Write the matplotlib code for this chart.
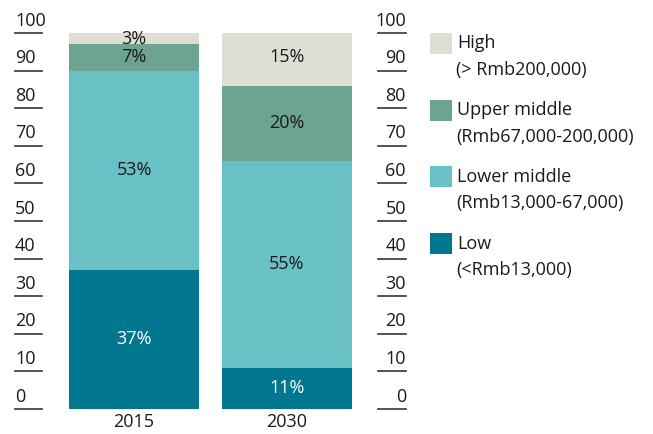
import matplotlib
matplotlib.use("Agg")
import matplotlib.pyplot as plt
from matplotlib.patches import Rectangle
import numpy as np

plt.rcParams['font.family'] = ['Open Sans', 'DejaVu Sans']

# data
years = ['2015', '2030']
groups = ['Low', 'Lower middle', 'Upper middle', 'High']
shares = {
    'Low': [37, 11],
    'Lower middle': [53, 55],
    'Upper middle': [7, 20],
    'High': [3, 15],
}
legend_sub = {
    'High': '(> Rmb200,000)',
    'Upper middle': '(Rmb67,000-200,000)',
    'Lower middle': '(Rmb13,000-67,000)',
    'Low': '(<Rmb13,000)',
}
colors = {
    'Low': '#00778f',
    'Lower middle': '#69c1c6',
    'Upper middle': '#6ca393',
    'High': '#deded3',
}
text_colors = {'Low': 'white', 'Lower middle': '#1a1a1a',
               'Upper middle': '#1a1a1a', 'High': '#1a1a1a'}
yticks = list(range(0, 101, 10))
fs = 13

W, H = 653, 434
fig = plt.figure(figsize=(W / 100, H / 100), dpi=100)
ax = fig.add_axes([15 / W, 1 - 409 / H, (406 - 15) / W, (409 - 33) / H])
ax.set_xlim(-0.778, 1.778)
ax.set_ylim(0, 100)
ax.axis('off')

x = np.arange(len(years))
bottom = np.zeros(len(years))
for g in groups:
    vals = np.array(shares[g], dtype=float)
    ax.bar(x, vals, bottom=bottom, width=0.85, color=colors[g], linewidth=0)
    for xi, b, v in zip(x, bottom, vals):
        yc = min(b + v / 2, 99.6)
        ax.text(xi, yc, f'{int(v)}%', ha='center', va='center', fontsize=fs,
                color=text_colors[g], clip_on=False)
    bottom += vals

for xi, yr in zip(x, years):
    ax.text(xi, -1.0, yr, ha='center', va='top', fontsize=fs, color='#1a1a1a')

# y tick lines and labels on both sides
for t in yticks:
    ax.plot([-0.778, -0.601], [t, t], color='#333333', lw=1.2, clip_on=False)
    ax.plot([1.595, 1.778], [t, t], color='#333333', lw=1.2, clip_on=False)
    ax.text(-0.778, t + 0.9, str(t), ha='left', va='bottom', fontsize=fs,
            color='#1a1a1a', clip_on=False)
    ax.text(1.778, t + 0.9, str(t), ha='right', va='bottom', fontsize=fs,
            color='#1a1a1a', clip_on=False)

# legend
for i, g in enumerate(['High', 'Upper middle', 'Lower middle', 'Low']):
    top = 33 + i * 66.7
    fig.add_artist(Rectangle((430 / W, 1 - (top + 21) / H), 22 / W, 21 / H,
                             transform=fig.transFigure, color=colors[g], lw=0))
    fig.text(457 / W, 1 - (top + 10.5) / H, g, ha='left', va='center',
             fontsize=fs, color='#1a1a1a')
    fig.text(456 / W, 1 - (top + 37) / H, legend_sub[g], ha='left', va='center',
             fontsize=fs, color='#1a1a1a')

fig.savefig('out.png', dpi=100)
